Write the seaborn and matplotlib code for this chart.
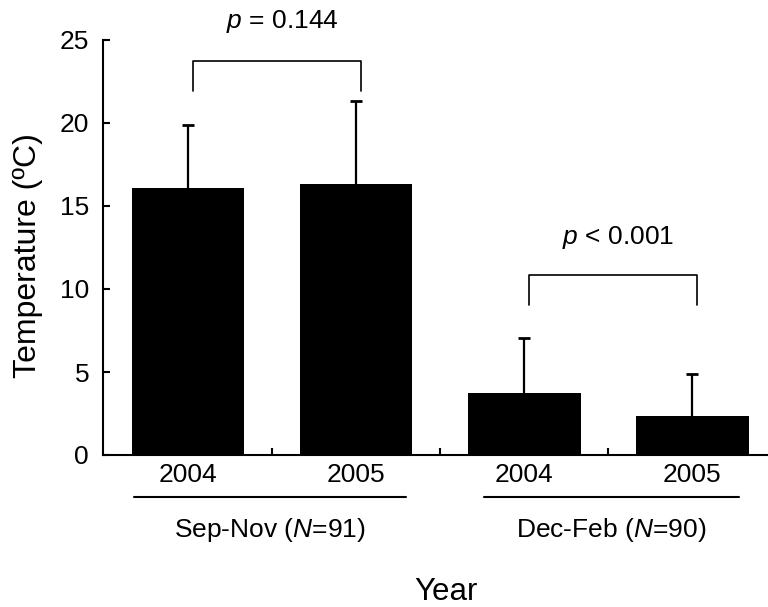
import matplotlib
matplotlib.use("Agg")
import matplotlib.pyplot as plt
import seaborn as sns
import numpy as np
import pandas as pd

# ---- data ----
categories = ["Sep-Nov 2004", "Sep-Nov 2005", "Dec-Feb 2004", "Dec-Feb 2005"]
year_labels = ["2004", "2005", "2004", "2005"]
means = [16.1, 16.3, 3.75, 2.35]
sds = [3.8, 5.0, 3.3, 2.5]
group_labels = ["Sep-Nov ($N$=91)", "Dec-Feb ($N$=90)"]
p_labels = ["$p$ = 0.144", "$p$ < 0.001"]
yticks = [0, 5, 10, 15, 20, 25]

sns.set_theme(style="ticks")
plt.rcParams["font.family"] = ["Liberation Sans", "DejaVu Sans"]
plt.rcParams["mathtext.fontset"] = "custom"
plt.rcParams["mathtext.rm"] = "Liberation Sans"
plt.rcParams["mathtext.it"] = "Liberation Sans:italic"
for k in ["text.color", "axes.labelcolor", "xtick.color", "ytick.color", "axes.edgecolor"]:
    plt.rcParams[k] = "black"

df = pd.DataFrame({"cat": categories, "mean": means, "sd": sds})

fig = plt.figure(figsize=(7.68, 6.07), dpi=100)
ax = fig.add_axes([103/768, 1-455/607, 1-103/768, (455-40)/607])

sns.barplot(data=df, x="cat", y="mean", color="black", width=0.67,
            errorbar=None, saturation=1, ax=ax, zorder=2, edgecolor="black", linewidth=0)
pos = np.arange(len(categories))
eb = ax.errorbar(pos, means, yerr=[np.zeros(len(sds)), sds], fmt="none",
                 ecolor="black", elinewidth=1.6, capsize=4, capthick=2, zorder=1)
eb[1][0].set_visible(False)  # hide lower caps

ax.set_xlim(-0.505, 3.45)
ax.set_ylim(0, 25)
ax.set_yticks(yticks)
ax.set_yticklabels([str(t) for t in yticks], fontsize=19)
ax.tick_params(axis="y", direction="in", length=5, width=1.5, pad=10, colors="black")

ax.set_xticks(pos)
ax.set_xticklabels(year_labels, fontsize=19)
ax.tick_params(axis="x", which="major", length=0, pad=6, colors="black")
ax.set_xticks(pos[:-1] + 0.5, minor=True)
ax.tick_params(axis="x", which="minor", direction="in", length=5, width=1.5, colors="black")

for s in ["top", "right"]:
    ax.spines[s].set_visible(False)
for s in ["left", "bottom"]:
    ax.spines[s].set_linewidth(1.5)
    ax.spines[s].set_color("black")

ax.set_ylabel("Temperature (ºC)", fontsize=23)
ax.yaxis.set_label_coords(-0.113, 0.48)
ax.yaxis.label.set_va("center")
ax.set_xlabel("Year", fontsize=22.5)
ax.xaxis.set_label_coords(0.516, -0.33)
ax.xaxis.label.set_va("center")

# group lines and labels
trans = ax.get_xaxis_transform()
group_spans = [(-0.32, 1.30), (1.76, 3.28)]
group_centers = [0.49, 2.52]
for (a, b), c, lab in zip(group_spans, group_centers, group_labels):
    ax.plot([a, b], [-0.1005, -0.1005], color="black", lw=1.5, transform=trans, clip_on=False)
    ax.text(c, -0.181, lab, transform=trans, ha="center", va="center", fontsize=19)

# significance brackets
off = 0.03
bracket_pairs = [(0, 1), (2, 3)]
bracket_top = [23.75, 10.84]
bracket_bottom = [21.95, 9.04]
text_y = [26.1, 13.1]
for (i, j), top, bot, ty, lab in zip(bracket_pairs, bracket_top, bracket_bottom, text_y, p_labels):
    ax.plot([i + off, i + off, j + off, j + off], [bot, top, top, bot],
            color="black", lw=1.2, clip_on=False)
    ax.text((i + j) / 2 + 0.06, ty, lab, ha="center", va="center", fontsize=19)

fig.savefig("out.png", dpi=100)
